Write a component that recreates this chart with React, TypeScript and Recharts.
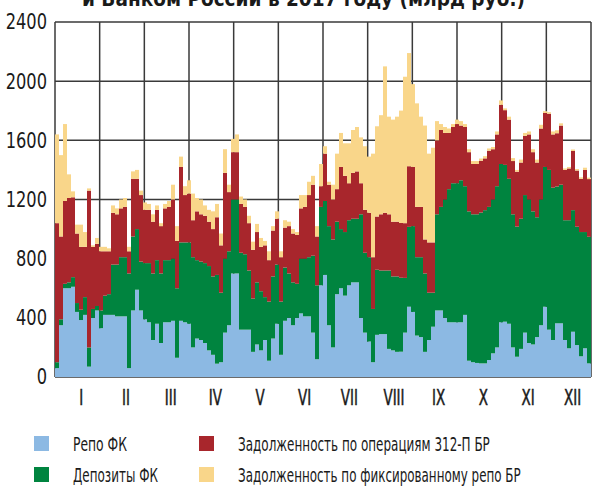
import React, { useLayoutEffect, useRef, useState } from "react";
import { BarChart, Bar, XAxis, YAxis, CartesianGrid, Legend } from "recharts";

document.body.style.margin = "0";

const FONT = "'Liberation Sans Narrow', 'Arial Narrow', 'DejaVu Sans Condensed', sans-serif";

const MONTHS = ["I", "II", "III", "IV", "V", "VI", "VII", "VIII", "IX", "X", "XI", "XII"];
const Y_TICKS = [0, 400, 800, 1200, 1600, 2000, 2400];

// млрд руб., по торговым дням 2017 года
const REPO_FK = [
  60, 350, 600, 600, 610, 440, 385, 420, 70, 400,
  450, 330, 420, 420, 420, 410, 410, 410, 60, 450,
  590, 450, 390, 370, 250, 360, 230, 370, 370, 380,
  130, 380, 370, 360, 200, 260, 250, 230, 180, 150,
  90, 100, 300, 350, 700, 700, 320, 320, 320, 170,
  220, 180, 250, 110, 260, 360, 150, 380, 400, 350,
  400, 430, 410, 410, 300, 120, 620, 690, 350, 200,
  560, 600, 550, 620, 640, 640, 400, 300, 240, 100,
  285, 290, 290, 190, 180, 170, 171, 300, 475, 440,
  280, 270, 170, 250, 340, 450, 450, 400, 370, 370,
  370, 370, 420, 110, 100, 95, 92, 92, 115, 160,
  200, 370, 374, 360, 200, 137, 190, 300, 230, 220,
  270, 350, 475, 320, 250, 363, 363, 250, 194, 306,
  216, 140, 194, 92,
];
const DEPOSITS_FK = [
  40, 40, 30, 40, 65, 60, 70, 120, 130, 60,
  30, 120, 130, 140, 340, 350, 400, 400, 640, 500,
  410, 330, 380, 400, 450, 430, 470, 420, 420, 420,
  470, 530, 540, 550, 610, 530, 530, 540, 570, 530,
  600, 470, 500, 500, 500, 500, 520, 510, 400, 360,
  420, 400, 290, 400, 420, 400, 360, 360, 300, 290,
  230, 370, 390, 400, 520, 500, 530, 500, 670, 730,
  490, 400, 430, 440, 430, 430, 700, 540, 570, 360,
  440, 430, 430, 530, 500, 510, 500, 370, 540, 580,
  530, 540, 530, 320, 230, 650, 700, 800, 900, 940,
  940, 960, 870, 1010, 1000, 1005, 1020, 1036, 1035, 1040,
  1090, 1070, 1060, 980, 900, 880, 880, 930, 970, 900,
  810, 850, 945, 1080, 1030, 925, 937, 810, 866, 822,
  800, 840, 786, 856,
];
const DEBT_312P = [
  940, 560, 560, 570, 540, 470, 425, 340, 1060, 420,
  420, 400, 300, 290, 350, 340, 330, 340, 150, 390,
  340, 450, 360, 360, 350, 340, 320, 350, 360, 400,
  320, 510, 320, 330, 250, 330, 320, 320, 300, 320,
  390, 320, 580, 400, 320, 320, 330, 320, 320, 330,
  340, 300, 350, 280, 310, 310, 300, 270, 320, 330,
  330, 340, 350, 420, 480, 330, 140, 320, 280, 270,
  220, 420, 380, 250, 310, 320, 210, 290, 300, 350,
  360, 380, 390, 380, 370, 370, 370, 370, 410, 400,
  340, 340, 230, 340, 340, 500, 520, 450, 380, 380,
  400, 370, 400, 400, 340, 340, 350, 350, 380, 340,
  350, 400, 370, 400, 360, 371, 380, 400, 440, 400,
  370, 480, 365, 380, 360, 360, 400, 340, 350, 400,
  380, 360, 420, 390,
];
const FIXED_REPO = [
  600, 550, 520, 160, 40, 60, 150, 100, 15, 10,
  40, 30, 30, 20, 50, 40, 60, 60, 30, 50,
  60, 30, 50, 40, 50, 30, 20, 30, 40, 100,
  100, 70, 60, 90, 180, 90, 100, 70, 80, 120,
  90, 80, 160, 50, 90, 120, 50, 50, 50, 55,
  55, 60, 30, 60, 30, 50, 40, 50, 30, 30,
  20, 90, 80, 90, 60, 70, 150, 50, 20, 100,
  240, 230, 220, 270, 290, 300, 310, 430, 380, 700,
  610, 670, 990, 660, 690, 710, 760, 990, 765, 560,
  700, 610, 770, 600, 640, 130, 40, 40, 30, 20,
  30, 30, 20, 20, 20, 20, 15, 15, 15, 15,
  20, 30, 12, 20, 20, 12, 20, 20, 20, 20,
  20, 25, 12, 10, 20, 20, 15, 10, 10, 10,
  10, 10, 15, 10,
];

const DAYS = REPO_FK.map((_, i) => i + 1);

const SERIES = [
  { key: "repo", name: "Репо ФК", color: "#8cb9e3" },
  { key: "deposits", name: "Депозиты ФК", color: "#00843f" },
  { key: "debt312", name: "Задолженность по операциям 312-П БР", color: "#a8262c" },
  { key: "fixedRepo", name: "Задолженность по фиксированному репо БР", color: "#f9d68a" },
];

const data = DAYS.map((day, i) => ({
  day,
  // position of the trading day on the 0..12 month scale
  monthPos: ((i + 0.5) * MONTHS.length) / DAYS.length,
  repo: REPO_FK[i],
  deposits: DEPOSITS_FK[i],
  debt312: DEBT_312P[i],
  fixedRepo: FIXED_REPO[i],
}));

const monthEdges = MONTHS.map((_, i) => i).concat(MONTHS.length);
const monthCenters = MONTHS.map((_, i) => i + 0.5);

// legend layout: series key, column, row, text width
const LEGEND_LAYOUT = [
  { key: "repo", col: 0, row: 0, w: 54 },
  { key: "debt312", col: 1, row: 0, w: 252 },
  { key: "deposits", col: 0, row: 1, w: 85 },
  { key: "fixedRepo", col: 1, row: 1, w: 283 },
];

// squeezes a text horizontally so that it takes the given width (condensed face stand-in)
function FitText({ x, y, width, children, ...rest }: any) {
  const ref = useRef<SVGTextElement>(null);
  const [scale, setScale] = useState(1);
  useLayoutEffect(() => {
    if (ref.current) {
      const w = ref.current.getComputedTextLength();
      if (w > 0) setScale(width / w);
    }
  }, [width]);
  return (
    <text ref={ref} transform={`translate(${x},${y}) scale(${scale},1)`} {...rest}>
      {children}
    </text>
  );
}

function ChartLegend() {
  return (
    <svg width={595} height={58} style={{ display: "block" }}>
      {LEGEND_LAYOUT.map((item) => {
        const s = SERIES.find((x) => x.key === item.key)!;
        const boxX = item.col === 0 ? 34 : 199;
        const textX = item.col === 0 ? 73 : 238;
        const top = item.row === 0 ? 8 : 39;
        return (
          <g key={item.key}>
            <rect x={boxX} y={top} width={15} height={15} fill={s.color} />
            <FitText
              x={textX}
              y={top + 15}
              width={item.w}
              fontFamily={FONT}
              fontSize={20}
              fill="#1a1a1a"
            >
              {s.name}
            </FitText>
          </g>
        );
      })}
    </svg>
  );
}

function YTick({ x, y, payload }: any) {
  return (
    <text
      transform={`translate(${x},${y}) scale(0.86,1)`}
      textAnchor="end"
      dy="0.355em"
      fontFamily={FONT}
      fontSize={21}
      fill="#1a1a1a"
    >
      {payload.value}
    </text>
  );
}

function MonthTick({ x, y, payload }: any) {
  return (
    <text
      transform={`translate(${x + 4},${y}) scale(0.68,1)`}
      textAnchor="middle"
      dy="0.71em"
      fontFamily={FONT}
      fontSize={22}
      fontWeight={500}
      stroke="#1a1a1a"
      strokeWidth={0.5}
      fill="#1a1a1a"
    >
      {MONTHS[Math.floor(payload.value)]}
    </text>
  );
}

export default function App() {
  return (
    <div style={{ position: "relative", width: 595, height: 486, background: "#fff" }}>
      <BarChart
        width={595}
        height={486}
        data={data}
        margin={{ top: 22, right: 4, bottom: 79, left: 8 }}
        barCategoryGap={0}
        barGap={0}
      >
        <XAxis
          xAxisId="months"
          dataKey="monthPos"
          type="number"
          domain={[0, 12]}
          ticks={monthCenters}
          allowDataOverflow
          height={30}
          axisLine={false}
          tickLine={false}
          tickSize={0}
          tickMargin={12}
          interval={0}
          tick={<MonthTick />}
        />
        <XAxis xAxisId="days" dataKey="day" hide height={0} />
        <XAxis
          xAxisId="grid"
          dataKey="monthPos"
          type="number"
          domain={[0, 12]}
          ticks={monthEdges}
          allowDataOverflow
          hide
          height={0}
        />
        <YAxis
          width={47}
          domain={[0, 2400]}
          ticks={Y_TICKS}
          interval={0}
          axisLine={false}
          tickLine={false}
          tickSize={0}
          tickMargin={8}
          tick={<YTick />}
        />
        <CartesianGrid xAxisId="grid" stroke="#3a3a3a" strokeWidth={1.5} />
        {SERIES.map((s) => (
          <Bar
            key={s.key}
            xAxisId="days"
            dataKey={s.key}
            name={s.name}
            stackId="total"
            fill={s.color}
            isAnimationActive={false}
          />
        ))}
        <Legend
          layout="horizontal"
          verticalAlign="middle"
          align="center"
          wrapperStyle={{ top: 428, left: 0, width: 595, height: 58 }}
          content={() => <ChartLegend />}
        />
      </BarChart>
      <svg
        width={595}
        height={20}
        style={{ position: "absolute", left: 0, top: 0, pointerEvents: "none" }}
      >
        <FitText
          x={82}
          y={6}
          width={443}
          fontFamily={FONT}
          fontWeight="bold"
          fontSize={21}
          fill="#1a1a1a"
        >
          и Банком России в 2017 году (млрд руб.)
        </FitText>
      </svg>
    </div>
  );
}
